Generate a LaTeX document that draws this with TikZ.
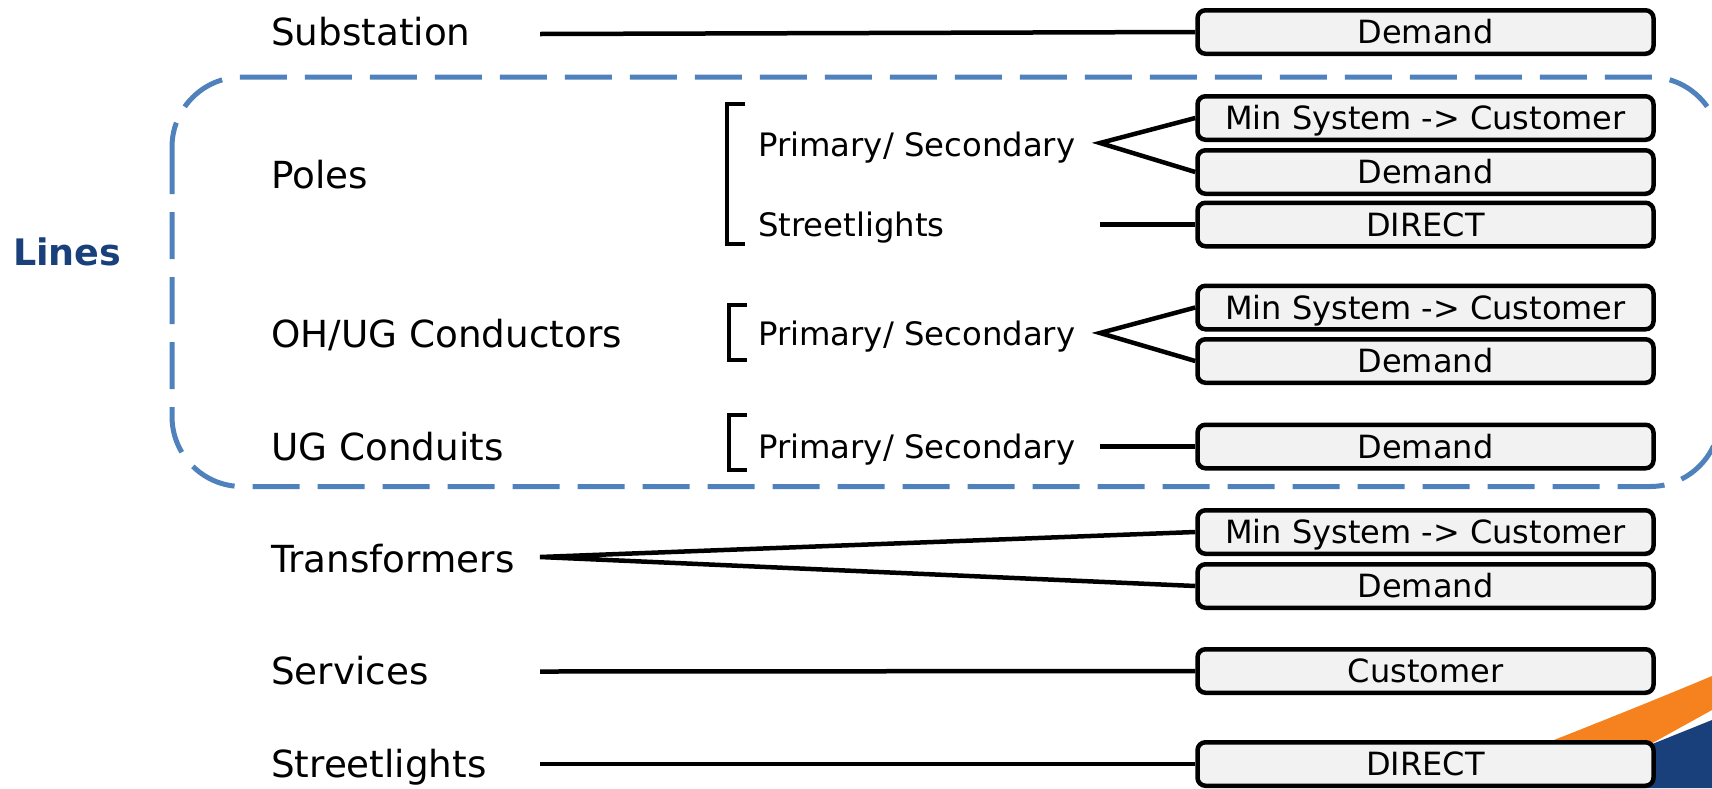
\documentclass[tikz,border=0pt]{standalone}
\usepackage{fontspec}
\setmainfont{DejaVu Sans}
\definecolor{dashblue}{RGB}{79,129,189}
\definecolor{navy}{RGB}{26,64,124}
\definecolor{swooshorange}{RGB}{245,130,31}
\definecolor{boxgray}{RGB}{242,242,242}
\begin{document}
\begin{tikzpicture}[x=1pt,y=-1pt,
 lbl/.style={anchor=west,inner sep=0pt,font=\fontsize{37.3}{41}\selectfont,text height=27.2pt,text depth=0pt},
 midlbl/.style={anchor=west,inner sep=0pt,font=\fontsize{32.3}{36}\selectfont,text height=23.6pt,text depth=0pt},
 outbox/.style={draw=black,line width=4.5pt,fill=boxgray,rounded corners=8pt,minimum width=456pt,minimum height=43.5pt,inner sep=0pt,font=\fontsize{32}{36}\selectfont,text height=23.4pt,text depth=0pt},
 conn/.style={line width=4.5pt},
 brk/.style={line width=4.5pt,line join=miter}
]
\useasboundingbox (0,0) rectangle (1712,788);
\clip (0,0) rectangle (1712,788);

% swoosh
\fill[swooshorange] (1480,769) .. controls (1580,730) and (1650,702) .. (1712,676) -- (1712,710) -- (1600,772) -- cycle;
\fill[navy] (1600,765) -- (1712,720) -- (1712,788) -- (1600,788) -- cycle;

% dashed group
\draw[dashblue,line width=5pt,dash pattern=on 47pt off 18pt,rounded corners=70pt] (172,77) rectangle (1720,486.5);
\node[anchor=west,inner sep=0pt,font=\bfseries\fontsize{36.5}{40}\selectfont,text=navy,text height=26.6pt,text depth=0pt] (lines) at (13,252) {Lines};

% left labels
\node[lbl] (sub) at (271,32) {Substation};
\node[lbl] (poles) at (271,175) {Poles};
\node[lbl] (ohug) at (271,334) {OH/UG Conductors};
\node[lbl] (ugc) at (271,446.5) {UG Conduits};
\node[lbl] (trans) at (271,559) {Transformers};
\node[lbl] (serv) at (271,670.5) {Services};
\node[lbl] (street) at (271,764) {Streetlights};

% middle labels
\node[midlbl] (pps1) at (758,145) {Primary/ Secondary};
\node[midlbl] (sl) at (758,224.5) {Streetlights};
\node[midlbl] (pps2) at (758,334) {Primary/ Secondary};
\node[midlbl] (pps3) at (758,446.5) {Primary/ Secondary};

% brackets
\draw[brk] (745,104) -| (727,244) -- (745,244);
\draw[brk] (747,305) -| (729,360) -- (747,360);
\draw[brk] (747,415) -| (729,470) -- (747,470);

% boxes
\node[outbox] (b1) at (1425.5,32) {Demand};
\node[outbox] (b2) at (1425.5,118) {Min System -> Customer};
\node[outbox] (b3) at (1425.5,172) {Demand};
\node[outbox] (b4) at (1425.5,224.5) {DIRECT};
\node[outbox] (b5) at (1425.5,307.5) {Min System -> Customer};
\node[outbox] (b6) at (1425.5,361) {Demand};
\node[outbox] (b7) at (1425.5,446.5) {Demand};
\node[outbox] (b8) at (1425.5,532) {Min System -> Customer};
\node[outbox] (b9) at (1425.5,586) {Demand};
\node[outbox] (b10) at (1425.5,671) {Customer};
\node[outbox] (b11) at (1425.5,764) {DIRECT};

% connector start points
\coordinate (subR) at (540,34);
\coordinate (transR) at (540,557);
\coordinate (servR) at (540,671.5);
\coordinate (streetR) at (540,764);
\coordinate (p1R) at (1100,143);
\coordinate (slR) at (1100,224.5);
\coordinate (p2R) at (1100,333);
\coordinate (p3R) at (1100,446.5);

% connectors
\draw[conn] (subR) -- (b1.west);
\draw[conn] (b2.west) -- (p1R) -- (b3.west);
\draw[conn] (slR) -- (b4.west);
\draw[conn] (b5.west) -- (p2R) -- (b6.west);
\draw[conn] (p3R) -- (b7.west);
\draw[conn] (b8.west) -- (transR) -- (b9.west);
\draw[conn] (servR) -- (b10.west);
\draw[conn] (streetR) -- (b11.west);
\end{tikzpicture}
\end{document}
